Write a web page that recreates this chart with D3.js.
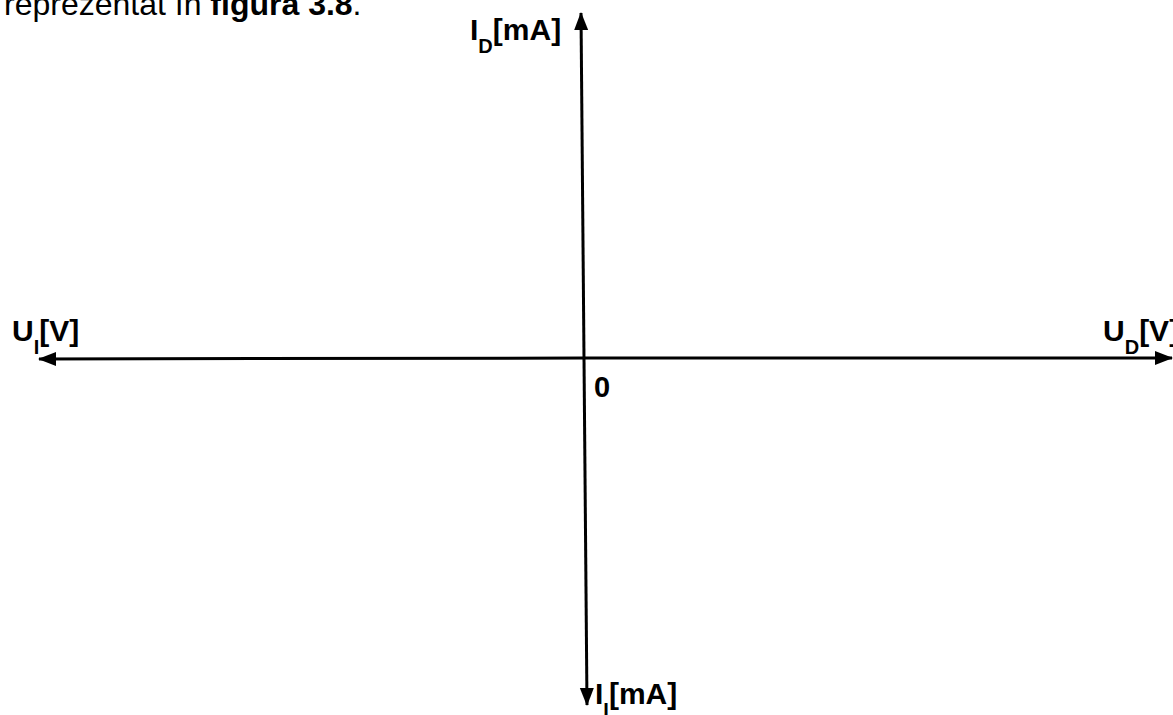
<!DOCTYPE html>
<html>
<head>
<meta charset="utf-8">
<script src="https://cdn.jsdelivr.net/npm/d3@7"></script>
<style>
  body { margin: 0; background: #fff; }
  svg { display: block; }
  text { font-family: "Liberation Sans", Arial, sans-serif; fill: #000; }
</style>
</head>
<body>
<script>
// blank characteristic diagram, only the two axes
var xStops = [-1, 0, 1];
var yStops = [-1, 0, 1];
var originLabel = '0';

// axis labels: main letter, subscript, unit, and which axis end
var axisLabels = [
  { id: 'UD', main: 'U', sub: 'D', unit: '[V]', at: [1, 0] },
  { id: 'UI', main: 'U', sub: 'I', unit: '[V]', at: [-1, 0] },
  { id: 'ID', main: 'I', sub: 'D', unit: '[mA]', at: [0, 1] },
  { id: 'II', main: 'I', sub: 'I', unit: '[mA]', at: [0, -1] }
];

// caption, cut at the top of the picture
var caption = [
  { t: 'reprezentat în ', bold: false },
  { t: 'figura 3.8', bold: true },
  { t: '.', bold: false }
];

var width = 1173, height = 715;

var x = d3.scaleLinear().domain(xStops).range([39, 584, 1173]);
var y = d3.scaleLinear().domain(yStops).range([705, 358, 13]);
var lean = 3; // the vertical axis is a bit slanted in the original

var svg = d3.select('body').append('svg')
  .attr('width', width)
  .attr('height', height);

svg.append('defs').append('marker')
  .attr('id', 'arrow')
  .attr('markerUnits', 'userSpaceOnUse')
  .attr('markerWidth', 18)
  .attr('markerHeight', 16)
  .attr('refX', 17)
  .attr('refY', 8)
  .attr('orient', 'auto')
  .append('path')
  .attr('d', 'M0,1 L18,8 L0,15 Z')
  .attr('fill', '#000');

function axisHalf(x2, y2) {
  svg.append('line')
    .attr('x1', x(0)).attr('y1', y(0))
    .attr('x2', x2).attr('y2', y2)
    .attr('stroke', '#000').attr('stroke-width', 3)
    .attr('marker-end', 'url(#arrow)');
}

axisHalf(x(1) - 1, y(0));
axisHalf(x(-1), y(0) + 1);
axisHalf(x(0) - lean, y(1));
axisHalf(x(0) + lean, y(-1));

// origin
svg.append('text')
  .attr('x', x(0) + 10)
  .attr('y', y(0) + 39)
  .attr('font-size', 29)
  .attr('font-weight', 'bold')
  .text(originLabel);

// label offsets from the axis end they belong to
var labelPos = {
  UD: function (p) { return [p[0] - 70, p[1] - 17]; },
  UI: function (p) { return [p[0] - 27, p[1] - 17]; },
  ID: function (p) { return [p[0] - 114, p[1] + 27]; },
  II: function (p) { return [p[0] + 11, p[1] - 1]; }
};

axisLabels.forEach(function (d) {
  var p = labelPos[d.id]([x(d.at[0]), y(d.at[1])]);
  var t = svg.append('text')
    .attr('x', p[0])
    .attr('y', p[1])
    .attr('font-size', 30)
    .attr('font-weight', 'bold');
  t.append('tspan').text(d.main);
  t.append('tspan').attr('font-size', 20).attr('dy', 13).text(d.sub);
  t.append('tspan').attr('dy', -13).text(d.unit);
});

var cap = svg.append('text')
  .attr('x', 4)
  .attr('y', 15)
  .attr('font-size', 32);
caption.forEach(function (c) {
  cap.append('tspan')
    .attr('font-weight', c.bold ? 'bold' : 'normal')
    .text(c.t);
});
</script>
</body>
</html>
